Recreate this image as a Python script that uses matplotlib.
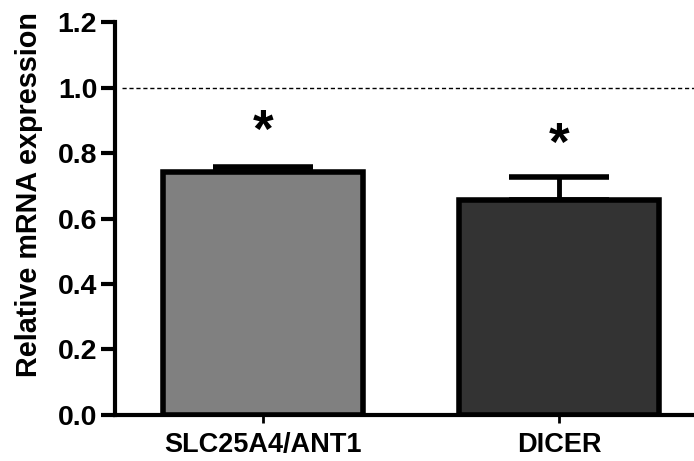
import matplotlib.pyplot as plt

# data
genes = ['SLC25A4/ANT1', 'DICER']
expression = [0.742, 0.656]
sem = [0.015, 0.071]
bar_colors = ['#808080', '#333333']
star_y = [0.862, 0.822]

plt.rcParams['font.family'] = ['Liberation Sans', 'DejaVu Sans']
plt.rcParams['font.weight'] = 'bold'

fig = plt.figure(figsize=(6.94, 4.61), dpi=100)
ax = fig.add_axes([0.166, 0.1, 0.834, 0.852])

x = list(range(len(genes)))
ax.bar(x, expression, width=0.676, color=bar_colors, edgecolor='black',
       linewidth=4, zorder=3)

# error bars (upper only)
ax.errorbar(x, expression, yerr=[[0, 0], sem], fmt='none', ecolor='black',
            elinewidth=3.5, capsize=36, capthick=4, zorder=2)

# significance stars
for xi, yi in zip(x, star_y):
    ax.text(xi, yi, '*', ha='center', va='center', fontsize=38,
            fontweight='bold')

# reference line at 1.0
ax.axhline(1.0, xmin=0.012, xmax=1, color='black', linestyle=(0, (3, 2)),
           linewidth=1, zorder=1)

ax.set_xlim(-0.5, 1.456)
ax.set_ylim(0, 1.2)
ax.set_yticks([0.0, 0.2, 0.4, 0.6, 0.8, 1.0, 1.2])
ax.set_yticklabels(['0.0', '0.2', '0.4', '0.6', '0.8', '1.0', '1.2'])
ax.set_xticks(x)
ax.set_xticklabels(genes)

ax.spines['top'].set_visible(False)
ax.spines['right'].set_visible(False)
ax.spines['left'].set_linewidth(3)
ax.spines['bottom'].set_linewidth(3)
ax.tick_params(axis='y', length=10, width=3, labelsize=20.5, pad=3)
ax.tick_params(axis='x', length=6, width=2, labelsize=19.5, pad=6)

ax.set_ylabel('Relative mRNA expression', fontsize=20.7, fontweight='bold')
ax.yaxis.set_label_coords(-0.125, 0.56)

fig.savefig('out.png', dpi=100)
